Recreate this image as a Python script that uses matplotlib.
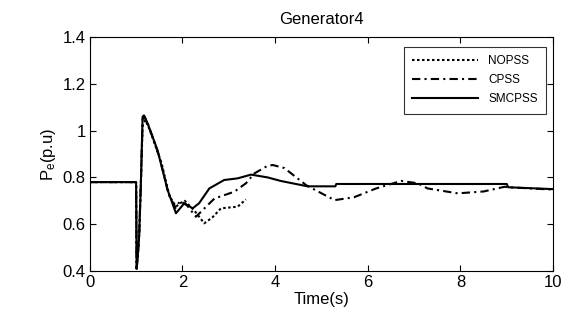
import numpy as np
import matplotlib.pyplot as plt

plt.rcParams["font.family"] = ["Liberation Sans", "DejaVu Sans"]
plt.rcParams["mathtext.fontset"] = "custom"
plt.rcParams["mathtext.rm"] = "Liberation Sans"
plt.rcParams["mathtext.it"] = "Liberation Sans"

# =====================================
# DATA
# =====================================

t_smc = [0.0, 1.0, 1.01, 1.03, 1.065, 1.10, 1.14, 1.17, 1.25, 1.46, 1.68, 1.86,
         2.04, 2.22, 2.36, 2.58, 2.90, 3.19, 3.48, 3.84, 4.12, 4.70, 5.30, 5.32,
         9.00, 9.03, 10.0]
p_smc = [0.78, 0.78, 0.41, 0.45, 0.55, 0.76, 1.06, 1.065, 1.03, 0.917, 0.746, 0.647,
         0.69, 0.668, 0.69, 0.753, 0.789, 0.796, 0.812, 0.80, 0.785, 0.762, 0.762, 0.772,
         0.772, 0.758, 0.75]

t_cpss = [0.0, 1.0, 1.01, 1.03, 1.065, 1.10, 1.14, 1.18, 1.27, 1.50, 1.70, 1.85,
          1.95, 2.10, 2.29, 2.69, 3.12, 3.37, 3.55, 3.84, 3.95, 4.20, 4.67, 5.28,
          5.70, 6.18, 6.72, 7.08, 7.29, 7.94, 8.50, 8.95, 9.03, 10.0]
p_cpss = [0.78, 0.78, 0.41, 0.45, 0.55, 0.76, 1.05, 1.06, 1.02, 0.89, 0.73, 0.67,
          0.70, 0.68, 0.632, 0.71, 0.739, 0.775, 0.817, 0.85, 0.853, 0.84, 0.767, 0.703,
          0.715, 0.753, 0.785, 0.775, 0.753, 0.732, 0.740, 0.76, 0.758, 0.748]

t_nopss = [0.0, 1.0, 1.01, 1.03, 1.065, 1.10, 1.14, 1.20, 1.30, 1.55, 1.72, 1.86,
           1.95, 2.05, 2.25, 2.47, 2.65, 2.83, 3.19, 3.37]
p_nopss = [0.78, 0.78, 0.41, 0.45, 0.55, 0.76, 1.02, 1.045, 1.00, 0.86, 0.72, 0.675,
           0.69, 0.70, 0.66, 0.604, 0.63, 0.668, 0.675, 0.706]

xticks = [0, 2, 4, 6, 8, 10]
yticks = [0.4, 0.6, 0.8, 1.0, 1.2, 1.4]
ytick_labels = ["0.4", "0.6", "0.8", "1", "1.2", "1.4"]

# =====================================
# PLOT
# =====================================

fig = plt.figure(figsize=(5.72, 3.27), dpi=100)
ax = fig.add_axes([0.157, 0.171, 0.810, 0.716])

ax.plot(t_nopss, p_nopss, color="black", linestyle=(0, (1.2, 1.2)), lw=1.5, label="NOPSS")
ax.plot(t_cpss, p_cpss, color="black", linestyle=(0, (4, 2, 1, 2)), lw=1.5, label="CPSS")
ax.plot(t_smc, p_smc, color="black", linestyle="-", lw=1.5, label="SMCPSS")

ax.set_xlim(0, 10)
ax.set_ylim(0.4, 1.4)
ax.set_xticks(xticks)
ax.set_yticks(yticks)
ax.set_yticklabels(ytick_labels)
ax.tick_params(direction="in", length=4, labelsize=12, width=0.8, pad=3)
ax.tick_params(top=True, right=True)
ax.set_xlabel("Time(s)", fontsize=12, labelpad=1)
ax.set_ylabel("P$_\\mathregular{e}$(p.u)", fontsize=12, labelpad=3)
ax.set_title("Generator4", fontsize=12, pad=9)

leg = ax.legend(loc="upper right", fontsize=8.5, handlelength=5.6, handletextpad=0.85,
                frameon=True, fancybox=False, edgecolor="black", borderpad=0.7,
                labelspacing=0.6, borderaxespad=0, bbox_to_anchor=(0.985, 0.957))
leg.get_frame().set_linewidth(0.8)

fig.savefig("out.png", dpi=100)
